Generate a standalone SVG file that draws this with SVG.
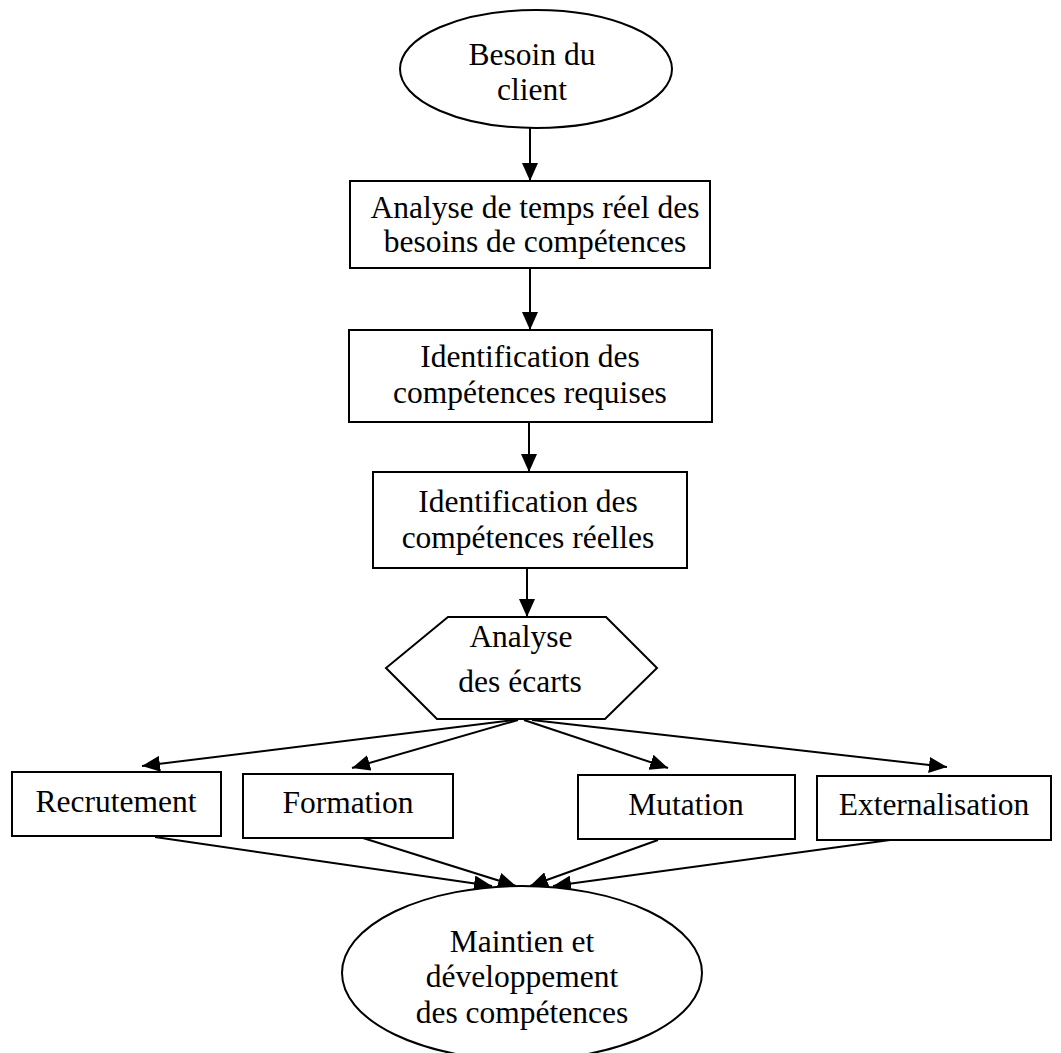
<svg xmlns="http://www.w3.org/2000/svg" width="1061" height="1053" viewBox="0 0 1061 1053">
<style>
.shape{fill:#fff;stroke:#000;stroke-width:2}
.t{font-family:"Liberation Serif","Times New Roman",serif;font-size:31.5px;fill:#000;text-anchor:middle}
.c{stroke:#000;stroke-width:2;fill:none;marker-end:url(#ah)}
</style>
<defs>
<marker id="ah" markerUnits="userSpaceOnUse" markerWidth="20" markerHeight="16" refX="18" refY="8" orient="auto">
<path d="M0,0 L18,8 L0,16 Z" fill="#000"/>
</marker>
</defs>
<rect width="1061" height="1053" fill="#fff"/>
<g id="connectors">
<line class="c" x1="530" y1="128" x2="530" y2="181"/>
<line class="c" x1="530" y1="268" x2="530" y2="330"/>
<line class="c" x1="529" y1="422" x2="529" y2="472"/>
<line class="c" x1="527" y1="568" x2="527" y2="617"/>
<line class="c" x1="514" y1="720" x2="142" y2="766"/>
<line class="c" x1="518" y1="720" x2="352" y2="768"/>
<line class="c" x1="524" y1="720" x2="668" y2="768"/>
<line class="c" x1="532" y1="720" x2="947" y2="767"/>
<line class="c" x1="155" y1="837" x2="492" y2="886"/>
<line class="c" x1="363" y1="838" x2="516" y2="886"/>
<line class="c" x1="658" y1="840" x2="530" y2="886"/>
<line class="c" x1="890" y1="840" x2="553" y2="886"/>
</g>
<g id="besoin">
<ellipse class="shape" cx="536" cy="69" rx="136" ry="59"/>
<text class="t" x="532" y="65">Besoin du</text>
<text class="t" x="532" y="100">client</text>
</g>
<g id="analyse-temps-reel">
<rect class="shape" x="350" y="181" width="360" height="87"/>
<text class="t" x="535" y="218">Analyse de temps réel des</text>
<text class="t" x="535" y="252">besoins de compétences</text>
</g>
<g id="identification-requises">
<rect class="shape" x="349" y="330" width="363" height="92"/>
<text class="t" x="530" y="367">Identification des</text>
<text class="t" x="530" y="403">compétences requises</text>
</g>
<g id="identification-reelles">
<rect class="shape" x="373" y="472" width="314" height="96"/>
<text class="t" x="528" y="512">Identification des</text>
<text class="t" x="528" y="548">compétences réelles</text>
</g>
<g id="analyse-ecarts">
<polygon class="shape" points="448,617 606,617 657,668 605,719 437,719 386,668"/>
<text class="t" x="521" y="647">Analyse</text>
<text class="t" x="520" y="692">des écarts</text>
</g>
<g id="recrutement">
<rect class="shape" x="12" y="772" width="209" height="64"/>
<text class="t" x="116" y="812">Recrutement</text>
</g>
<g id="formation">
<rect class="shape" x="243" y="774" width="210" height="64"/>
<text class="t" x="348" y="813">Formation</text>
</g>
<g id="mutation">
<rect class="shape" x="578" y="775" width="217" height="64"/>
<text class="t" x="686" y="815">Mutation</text>
</g>
<g id="externalisation">
<rect class="shape" x="817" y="776" width="234" height="64"/>
<text class="t" x="934" y="815">Externalisation</text>
</g>
<g id="maintien">
<ellipse class="shape" cx="522" cy="973" rx="180" ry="87"/>
<text class="t" x="522" y="952">Maintien et</text>
<text class="t" x="522" y="987">développement</text>
<text class="t" x="522" y="1023">des compétences</text>
</g>
</svg>
